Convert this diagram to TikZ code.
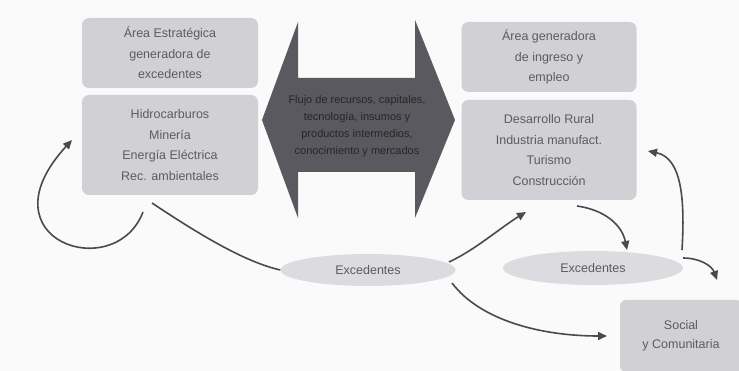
\documentclass[tikz,border=0pt]{standalone}
\usepackage{fontspec}
\setmainfont{Liberation Sans}
\usetikzlibrary{shapes.geometric,arrows.meta}
\definecolor{boxfill}{HTML}{D1D0D4}
\definecolor{ellfill}{HTML}{DCDBE0}
\definecolor{darkarrow}{HTML}{5A595F}
\definecolor{txt}{HTML}{5C5C60}
\definecolor{curve}{HTML}{4A4A4E}
\begin{document}
\begin{tikzpicture}[x=1pt,y=-1pt,
  font=\fontsize{12.5}{20.5}\selectfont,
  areabox/.style={draw=none,fill=boxfill,rounded corners=7pt,align=center,text=txt,inner sep=0pt},
  blob/.style={ellipse,draw=none,fill=ellfill,text=txt,inner sep=0pt},
  flow/.style={draw=curve,line width=1.6pt,-{Triangle[length=9pt,width=8pt]}},
  plain/.style={draw=curve,line width=1.6pt}]
\useasboundingbox[fill=white!96!gray] (0,0) rectangle (739,371);

% left column
\node[areabox,minimum width=176,minimum height=70] (ltop) at (170,53)
  {Área Estratégica\\generadora de\\excedentes};
\node[areabox,minimum width=176,minimum height=100] (lbot) at (170,145)
  {Hidrocarburos\\Minería\\Energía Eléctrica\\Rec. ambientales};

% right column
\node[areabox,minimum width=175,minimum height=70] (rtop) at (549,57)
  {Área generadora\\de ingreso y\\empleo};
\node[areabox,minimum width=175,minimum height=100] (rbot) at (549,150)
  {Desarrollo Rural\\Industria manufact.\\Turismo\\Construcción};

% central double arrow
\fill[darkarrow] (262,120) -- (298,22) -- (298,78) -- (415,78) -- (415,20)
  -- (455,120) -- (415,218) -- (415,172) -- (298,172) -- (298,218) -- cycle;
\node[text=black!85,align=center,font=\fontsize{11}{17}\selectfont] (mid) at (357,126)
  {Flujo de recursos, capitales,\\tecnología, insumos y\\productos intermedios,\\conocimiento y mercados};

% surplus ellipses
\node[blob,minimum width=175,minimum height=32] (exl) at (368,270) {Excedentes};
\node[blob,minimum width=180,minimum height=34] (exr) at (593,268) {Excedentes};

% social box
\node[areabox,minimum width=122,minimum height=72,rounded corners=6pt,font=\fontsize{12.5}{18.5}\selectfont] (soc) at (681,336)
  {Social\\y Comunitaria};

% loose ends of the connectors
\coordinate (lloop) at (143,212);
\coordinate (ltip) at (72,140);
\coordinate (lout) at (152,203);
\coordinate (exlup) at (449,262);
\coordinate (rbin) at (526,212);
\coordinate (exldown) at (452,283);
\coordinate (socin) at (607,336);
\coordinate (rbout) at (577,206);
\coordinate (exrin) at (627,250);
\coordinate (exrup) at (682,250);
\coordinate (rbside) at (648,151);
\coordinate (exrout) at (683,258);
\coordinate (socdown) at (717,280);

% connectors
\draw[flow] (lloop) .. controls (115,285) and (-20,240) .. (ltip);
\draw[plain] (lout) .. controls (200,235) and (245,262) .. (exl.west);
\draw[flow] (exlup) .. controls (475,250) and (500,228) .. (rbin);
\draw[flow] (exldown) .. controls (480,320) and (540,336) .. (socin);
\draw[flow] (rbout) .. controls (605,210) and (622,225) .. (exrin);
\draw[flow] (exrup) .. controls (685,200) and (682,158) .. (rbside);
\draw[flow] (exrout) .. controls (700,258) and (712,266) .. (socdown);
\end{tikzpicture}
\end{document}
